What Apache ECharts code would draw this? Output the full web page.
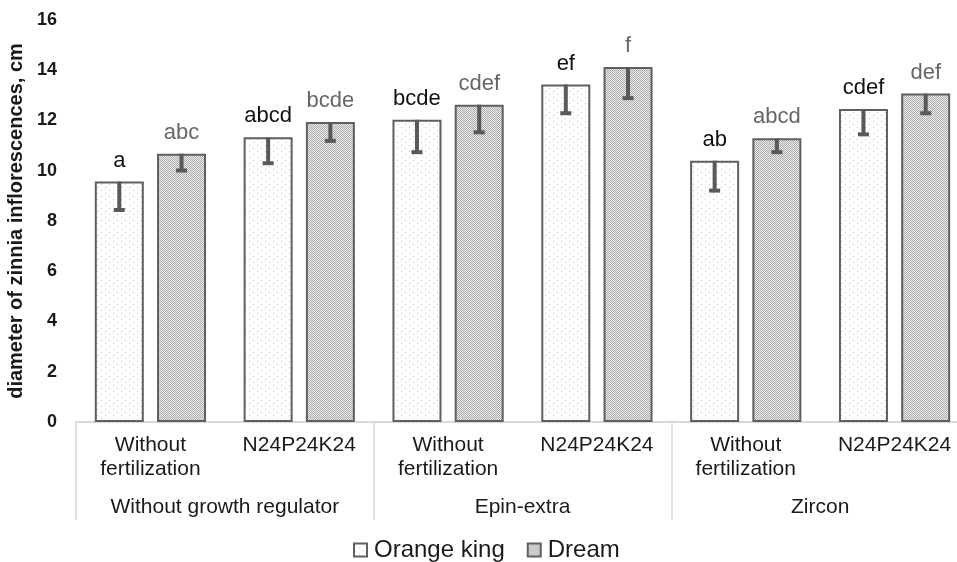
<!DOCTYPE html>
<html>
<head>
<meta charset="utf-8">
<script src="https://cdn.jsdelivr.net/npm/echarts@6/dist/echarts.min.js"></script>
<style>html,body{margin:0;padding:0;background:#fff;}#c{width:957px;height:562px;}</style>
</head>
<body>
<div id="c"></div>
<script>
const categories = ['Without\nfertilization', 'N24P24K24', 'Without\nfertilization', 'N24P24K24', 'Without\nfertilization', 'N24P24K24'];
const groups = ['Without growth regulator', 'Epin-extra', 'Zircon'];
const seriesNames = ['Orange king', 'Dream'];
const orangeKing = [9.57, 11.33, 12.03, 13.43, 10.40, 12.46];
const dream = [10.68, 11.94, 12.63, 14.13, 11.29, 13.07];
const orangeKingErr = [1.19, 1.09, 1.35, 1.20, 1.25, 1.07];
const dreamErr = [0.73, 0.81, 1.16, 1.30, 0.61, 0.84];
const orangeKingLetters = ['a', 'abcd', 'bcde', 'ef', 'ab', 'cdef'];
const dreamLetters = ['abc', 'bcde', 'cdef', 'f', 'abcd', 'def'];
const yTicks = [0, 16, 2];

const FONT = 'Arial, "Liberation Sans", sans-serif';
const BAR_W = 49;
const GAP_PCT = 27;

function makePattern(kind) {
  const c = document.createElement('canvas');
  const ctx = c.getContext('2d');
  if (kind === 'dots') {
    c.width = 8; c.height = 6;
    ctx.fillStyle = '#ffffff';
    ctx.fillRect(0, 0, 8, 6);
    ctx.fillStyle = '#c4c4c4';
    ctx.fillRect(1, 1, 1, 1);
    ctx.fillRect(5, 4, 1, 1);
  } else {
    c.width = 2; c.height = 2;
    ctx.fillStyle = '#ececec';
    ctx.fillRect(0, 0, 2, 2);
    ctx.fillStyle = '#ababab';
    ctx.fillRect(0, 0, 1, 1);
    ctx.fillRect(1, 1, 1, 1);
  }
  return { image: c, repeat: 'repeat' };
}

const chart = echarts.init(document.getElementById('c'), null, { renderer: 'canvas' });

function errRender(sign) {
  return function (params, api) {
    const idx = api.value(0);
    const val = api.value(1);
    const err = api.value(2);
    const top = api.coord([idx, val]);
    const low = api.coord([idx, val - err]);
    const gapPx = BAR_W * GAP_PCT / 100;
    const off = sign * (BAR_W + gapPx) / 2;
    const x = top[0] + off;
    return {
      type: 'group',
      children: [
        { type: 'line', shape: { x1: x, y1: top[1], x2: x, y2: low[1] }, style: { stroke: '#595959', lineWidth: 4 } },
        { type: 'line', shape: { x1: x - 5.5, y1: low[1] - 1.5, x2: x + 5.5, y2: low[1] - 1.5 }, style: { stroke: '#595959', lineWidth: 4 } }
      ]
    };
  };
}

const option = {
  animation: false,
  textStyle: { fontFamily: FONT },
  grid: { left: 76, right: -12, top: 20, bottom: 140, outerBoundsMode: 'none', containLabel: false },
  legend: {
    data: seriesNames,
    left: 348,
    top: 533,
    itemWidth: 13,
    itemHeight: 13,
    itemGap: 22,
    icon: 'rect',
    textStyle: { fontSize: 24, lineHeight: 24, color: '#1a1a1a', fontFamily: FONT, padding: [0, 0, 0, 2] }
  },
  xAxis: [
    {
      type: 'category',
      data: categories,
      position: 'bottom',
      axisLine: { show: true, lineStyle: { color: '#d9d9d9', width: 2 } },
      axisTick: { show: false },
      axisLabel: { interval: 0, fontSize: 21, lineHeight: 24, color: '#1a1a1a', margin: 11, fontFamily: FONT },
      splitLine: { show: false }
    },
    {
      type: 'category',
      data: groups,
      position: 'bottom',
      offset: 0,
      axisLine: { show: false },
      axisTick: { show: true, length: 98, lineStyle: { color: '#d9d9d9', width: 1.5 } },
      axisLabel: { interval: 0, fontSize: 21, lineHeight: 21, color: '#1a1a1a', margin: 75, fontFamily: FONT },
      splitLine: { show: false }
    }
  ],
  yAxis: {
    type: 'value',
    min: yTicks[0],
    max: yTicks[1],
    interval: yTicks[2],
    name: 'diameter of zinnia inflorescences, cm',
    nameLocation: 'middle',
    nameGap: 42,
    nameTextStyle: { fontSize: 20, fontWeight: 'bold', color: '#1a1a1a', fontFamily: FONT, padding: [0, 0, 0, 0] },
    axisLine: { show: false },
    axisTick: { show: false },
    splitLine: { show: false },
    axisLabel: { fontSize: 18, fontWeight: 'bold', color: '#1a1a1a', margin: 19, fontFamily: FONT }
  },
  series: [
    {
      name: seriesNames[0],
      type: 'bar',
      xAxisIndex: 0,
      data: orangeKing,
      barWidth: BAR_W,
      barGap: GAP_PCT + '%',
      itemStyle: { color: makePattern('dots'), borderColor: '#5f5f5f', borderWidth: 2 },
      label: {
        show: true, position: 'top', distance: 10,
        formatter: p => orangeKingLetters[p.dataIndex],
        fontSize: 22, lineHeight: 22, color: '#111', fontFamily: FONT
      }
    },
    {
      name: seriesNames[1],
      type: 'bar',
      xAxisIndex: 0,
      data: dream,
      barWidth: BAR_W,
      barGap: GAP_PCT + '%',
      itemStyle: { color: makePattern('checker'), borderColor: '#5f5f5f', borderWidth: 2 },
      label: {
        show: true, position: 'top', distance: 10,
        formatter: p => dreamLetters[p.dataIndex],
        fontSize: 22, lineHeight: 22, color: '#666', fontFamily: FONT
      }
    },
    {
      name: 'errOK',
      type: 'custom',
      xAxisIndex: 0,
      renderItem: errRender(-1),
      encode: { x: 0, y: 1 },
      data: orangeKing.map((v, i) => [i, v, orangeKingErr[i]]),
      z: 10,
      silent: true
    },
    {
      name: 'errDream',
      type: 'custom',
      xAxisIndex: 0,
      renderItem: errRender(1),
      encode: { x: 0, y: 1 },
      data: dream.map((v, i) => [i, v, dreamErr[i]]),
      z: 10,
      silent: true
    }
  ]
};
chart.setOption(option);
</script>
</body>
</html>
